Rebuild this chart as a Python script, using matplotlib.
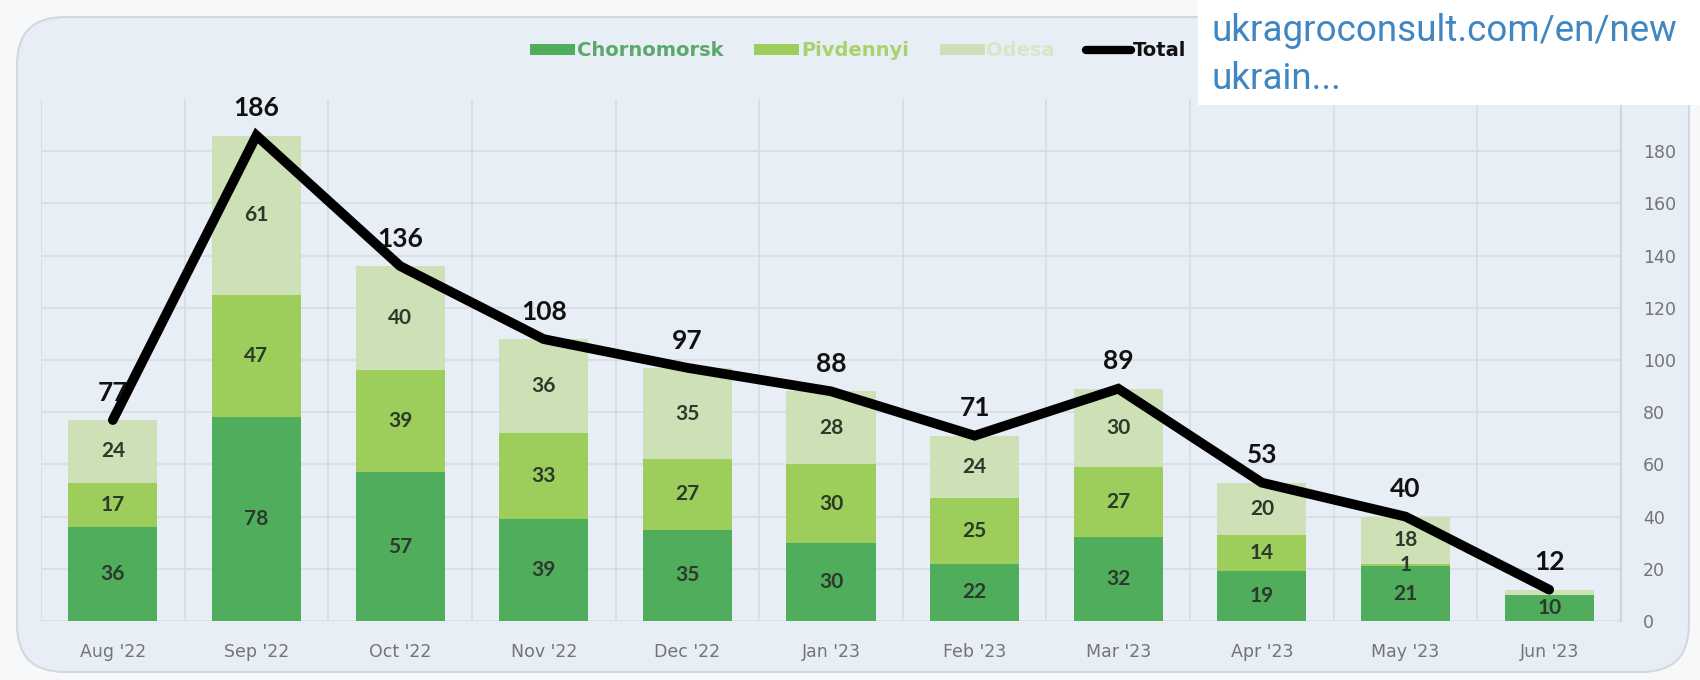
import matplotlib
matplotlib.use("Agg")
import matplotlib.pyplot as plt
from matplotlib.patches import FancyBboxPatch, Patch, Rectangle
from matplotlib.lines import Line2D
import numpy as np

months = ["Aug '22", "Sep '22", "Oct '22", "Nov '22", "Dec '22", "Jan '23",
          "Feb '23", "Mar '23", "Apr '23", "May '23", "Jun '23"]
chornomorsk = [36, 78, 57, 39, 35, 30, 22, 32, 19, 21, 10]
pivdennyi = [17, 47, 39, 33, 27, 30, 25, 27, 14, 1, 0]
odesa = [24, 61, 40, 36, 35, 28, 24, 30, 20, 18, 2]
total = [77, 186, 136, 108, 97, 88, 71, 89, 53, 40, 12]
y_ticks = [0, 20, 40, 60, 80, 100, 120, 140, 160, 180]
hidden_labels = {("Odesa", "Jun '23")}

c_chor = "#4fad5b"
c_piv = "#9dcd5a"
c_ode = "#cde0b6"
panel_bg = "#e8eef5"
grid_c = "#d6dce4"
tick_c = "#747474"
seg_text = "#2c3a2c"

plt.rcParams["font.family"] = ["DejaVu Sans"]

fig = plt.figure(figsize=(17, 6.8), dpi=100)
fig.patch.set_facecolor("#f7f8f9")

# rounded background panel
panel = FancyBboxPatch((17 / 1700, 8 / 680), 1672 / 1700, 655 / 680,
                       boxstyle="round,pad=0,rounding_size=0.028",
                       transform=fig.transFigure, facecolor=panel_bg,
                       edgecolor="#d3d8de", linewidth=1.5, zorder=-5,
                       mutation_aspect=2.5)
fig.patches.append(panel)

ax = fig.add_axes([41 / 1700, 59 / 680, 1580 / 1700, 522 / 680])
ax.set_zorder(1)
ax.set_facecolor("none")
x = np.arange(len(months))
w = 0.62

series = [("Chornomorsk", chornomorsk, c_chor),
          ("Pivdennyi", pivdennyi, c_piv),
          ("Odesa", odesa, c_ode)]
bottom = np.zeros(len(months))
for name, vals, col in series:
    vals = np.array(vals, dtype=float)
    ax.bar(x, vals, w, bottom=bottom, color=col, zorder=2, linewidth=0)
    for xi, b, v, m in zip(x, bottom, vals, months):
        if v > 0 and (name, m) not in hidden_labels:
            ax.text(xi, b + v / 2, f"{int(v)}", ha="center", va="center",
                    fontsize=15, fontweight="bold", color=seg_text, zorder=3,
                    family=["Lato", "DejaVu Sans"])
    bottom += vals

ax.plot(x, total, color="black", linewidth=7, zorder=4,
        solid_joinstyle="miter", solid_capstyle="round")
for xi, t in zip(x, total):
    ax.annotate(f"{t}", (xi, t), xytext=(0, 11), textcoords="offset points",
                ha="center", va="bottom", fontsize=19, fontweight="bold",
                color="#111111", zorder=5, family=["Lato", "DejaVu Sans"])

ax.set_xlim(-0.5, len(months) - 0.5)
ax.set_ylim(0, 200)
ax.set_xticks(x)
ax.set_xticklabels(months)
ax.set_xticks(np.arange(-0.5, len(months), 1), minor=True)
ax.set_yticks(y_ticks)
ax.yaxis.tick_right()
ax.tick_params(axis="y", length=0, pad=16, labelsize=12.5, labelcolor=tick_c)
ax.tick_params(axis="x", which="both", length=0, pad=16, labelsize=12.5,
               labelcolor=tick_c)
ax.grid(axis="y", which="major", color=grid_c, linewidth=1.2, zorder=0)
ax.grid(axis="x", which="minor", color=grid_c, linewidth=1.2, zorder=0)
ax.set_axisbelow(True)
for s in ["top", "left", "bottom"]:
    ax.spines[s].set_visible(False)
ax.spines["right"].set_color("#cfd5dc")
ax.spines["right"].set_linewidth(1.5)

handles = [Patch(facecolor=c_chor, label="Chornomorsk"),
           Patch(facecolor=c_piv, label="Pivdennyi"),
           Patch(facecolor=c_ode, label="Odesa"),
           Line2D([0], [0], color="black", linewidth=6, solid_capstyle="round",
                  label="Total")]
leg = fig.legend(handles=handles, loc="center", ncol=4,
                 bbox_to_anchor=(858 / 1700, 1 - 51 / 680), frameon=False,
                 handlelength=2.3, handleheight=0.55, handletextpad=0.1,
                 columnspacing=1.6, prop={"size": 14, "weight": "bold"})
for txt, col in zip(leg.get_texts(), ["#5aa86a", "#a9d26a", "#d9e6c6", "#111111"]):
    txt.set_color(col)

# link preview card in the corner
fig.patches.append(Rectangle((1198 / 1700, 1 - 105 / 680), 502 / 1700, 105 / 680,
                             transform=fig.transFigure, facecolor="white",
                             edgecolor="none", zorder=10))
fig.text(1212 / 1700, 1 - 31 / 680, "ukragroconsult.com/en/new",
         fontsize=26.5, color="#3f86c2", va="center", ha="left",
         family=["Roboto", "DejaVu Sans"], zorder=11)
fig.text(1212 / 1700, 1 - 79 / 680, "ukrain...",
         fontsize=26.5, color="#3f86c2", va="center", ha="left",
         family=["Roboto", "DejaVu Sans"], zorder=11)

fig.savefig("out.png", dpi=100, facecolor=fig.get_facecolor())
